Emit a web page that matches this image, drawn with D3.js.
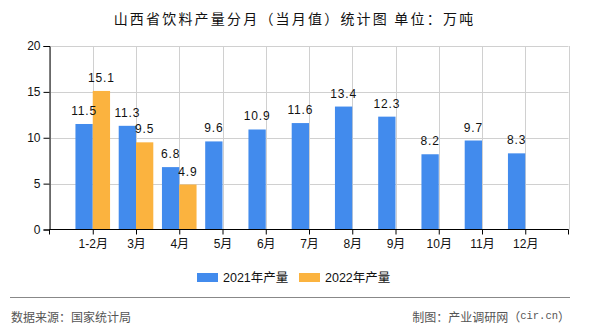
<!DOCTYPE html>
<html><head><meta charset="utf-8">
<script src="https://cdn.jsdelivr.net/npm/d3@7/dist/d3.min.js"></script>
<style>
html,body{margin:0;padding:0;background:#fff;}
svg{display:block;}
text{font-family:"Liberation Sans","Noto Sans CJK SC",sans-serif;}
</style></head>
<body>
<script>
const categories = ["1-2月","3月","4月","5月","6月","7月","8月","9月","10月","11月","12月"];
const values2021 = [11.5,11.3,6.8,9.6,10.9,11.6,13.4,12.3,8.2,9.7,8.3];
const values2022 = [15.1,9.5,4.9,null,null,null,null,null,null,null,null];
const seriesNames = ["2021年产量","2022年产量"];
const yTicks = [0,5,10,15,20];
const title = "山西省饮料产量分月（当月值）统计图 单位：万吨";
const sourceText = "数据来源：国家统计局";
const creditParts = ["制图：产业调研网（","cir.cn","）"];
const colors = ["#428bed","#fbb33f"];

const W=590,H=330;
const pL=49.5,pR=568.5,pT=46,pB=229.5;
const svg=d3.select("body").append("svg").attr("width",W).attr("height",H);

svg.append("text").attr("x",294.5).attr("y",18).attr("text-anchor","middle")
  .attr("dominant-baseline","central").attr("font-size",14).attr("letter-spacing","2.2px")
  .attr("fill","#111").style("font-family","'Noto Sans CJK SC',sans-serif").text(title);

const x=d3.scalePoint().domain(categories).range([pL,pR]).padding(1);
const step=x.step();
const y=d3.scaleLinear().domain([0,20]).range([pB,pT]);
const bw=step*0.4;

// grid
const g=svg.append("g");
g.selectAll(".hg").data(yTicks.slice(1)).join("line")
  .attr("x1",pL).attr("x2",pR).attr("y1",d=>Math.round(y(d))+0.5).attr("y2",d=>Math.round(y(d))+0.5)
  .attr("stroke","#d0d0d0").attr("stroke-width",1);
const vpos=[pL].concat(categories.map(c=>x(c))).concat([pR]);
g.selectAll(".vg").data(vpos).join("line")
  .attr("x1",d=>Math.round(d)+0.5).attr("x2",d=>Math.round(d)+0.5).attr("y1",pT).attr("y2",pB)
  .attr("stroke","#d0d0d0").attr("stroke-width",1);

// bars
const bars=svg.append("g");
bars.selectAll(".b1").data(categories).join("rect")
  .attr("x",c=>x(c)-bw).attr("width",bw)
  .attr("y",(c,i)=>y(values2021[i])).attr("height",(c,i)=>pB-y(values2021[i]))
  .attr("fill",colors[0]);
const c22=categories.filter((c,i)=>values2022[i]!=null);
bars.selectAll(".b2").data(c22).join("rect")
  .attr("x",c=>x(c)).attr("width",bw)
  .attr("y",c=>y(values2022[categories.indexOf(c)])).attr("height",c=>pB-y(values2022[categories.indexOf(c)]))
  .attr("fill",colors[1]);

// labels
const lab=svg.append("g").attr("font-size",12).attr("fill","#111").attr("text-anchor","middle").attr("letter-spacing","0.8px");
lab.selectAll(".l1").data(categories).join("text")
  .attr("x",c=>x(c)-bw/2).attr("y",(c,i)=>y(values2021[i])-9)
  .text((c,i)=>values2021[i].toFixed(1));
lab.selectAll(".l2").data(c22).join("text")
  .attr("x",c=>x(c)+bw/2).attr("y",c=>y(values2022[categories.indexOf(c)])-9)
  .text(c=>values2022[categories.indexOf(c)].toFixed(1));

// y axis
const ya=svg.append("g").attr("transform",`translate(${pL},0)`)
  .call(d3.axisLeft(y).tickValues(yTicks).tickSize(6).tickPadding(3));
ya.select(".domain").attr("stroke","#000");
ya.selectAll(".tick line").attr("stroke","#000");
ya.selectAll("text").attr("font-size",12).attr("fill","#111").style("font-family","'Liberation Sans',sans-serif");

// x axis
const xa=svg.append("g").attr("transform",`translate(0,${pB})`)
  .call(d3.axisBottom(x).tickSize(5).tickPadding(5));
xa.select(".domain").attr("stroke","#000").attr("d",`M${pL},5V0H${pR}V5`);
xa.selectAll(".tick line").attr("stroke","#000");
xa.selectAll("text").attr("font-size",12).attr("fill","#111");

// legend
const leg=svg.append("g");
const legX=[197,299];
seriesNames.forEach((n,i)=>{
  leg.append("rect").attr("x",legX[i]).attr("y",273).attr("width",21).attr("height",9).attr("fill",colors[i]);
  leg.append("text").attr("x",legX[i]+26).attr("y",277.5).attr("dominant-baseline","central")
    .attr("font-size",12.5).attr("fill","#111").text(n);
});

// footer
svg.append("line").attr("x1",10).attr("x2",570).attr("y1",297.5).attr("y2",297.5).attr("stroke","#888").attr("stroke-width",1.2);
svg.append("text").attr("x",11).attr("y",316).attr("dominant-baseline","central").attr("font-size",12)
  .attr("fill","#555").style("font-family","'Noto Sans CJK SC',sans-serif").text(sourceText);
const ct=svg.append("text").attr("x",570).attr("y",316).attr("dominant-baseline","central").attr("text-anchor","end").attr("font-size",12)
  .attr("fill","#555").style("font-family","'Noto Sans CJK SC',sans-serif");
ct.append("tspan").text(creditParts[0]);
ct.append("tspan").style("font-family","'Liberation Mono',monospace").attr("font-size",10.5).text(creditParts[1]);
ct.append("tspan").text(creditParts[2]);
</script>
</body></html>
